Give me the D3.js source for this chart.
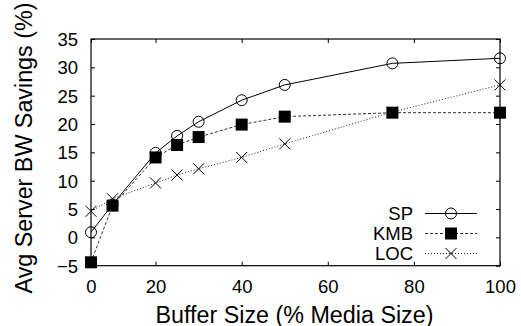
<!DOCTYPE html>
<html lang="en">

<head>
    <meta charset="utf-8">
    <script src="https://d3js.org/d3.v7.min.js"></script>
    <style>
        body { margin: 0; background: #fff; }
        text { font-family: "Liberation Sans", Arial, sans-serif; fill: #000; }
    </style>
</head>

<body>
    <div id="graph"></div>
    <script>
        // buffer sizes (% media size) and savings per method
        var bufferSizes = [5, 10, 20, 25, 30, 40, 50, 75, 100];
        var spValues  = [0.9, 5.8, 14.9, 17.9, 20.4, 24.2, 26.9, 30.7, 31.6];
        var kmbValues = [-4.4, 5.6, 14.1, 16.3, 17.7, 19.9, 21.3, 22.0, 22.0];
        var locValues = [4.6, 6.8, 9.6, 11.0, 12.1, 14.1, 16.5, 22.1, 26.9];
        var seriesNames = ["SP", "KMB", "LOC"];

        var xTickValues = [5, 20, 40, 60, 80, 100];
        var xTickLabels = ["0", "20", "40", "60", "80", "100"];
        var yTickValues = [-5, 0, 5, 10, 15, 20, 25, 30, 35];

        var width = 521, height = 326;
        var margin = { top: 39, right: 21, bottom: 60, left: 91 };

        var svg = d3.select("#graph").append("svg")
            .attr("width", width)
            .attr("height", height);

        var x = d3.scaleLinear()
            .domain([5, 100])
            .range([margin.left, width - margin.right]);

        var y = d3.scaleLinear()
            .domain([-5, 35])
            .range([height - margin.bottom - 0.3, margin.top]);

        // frame
        svg.append("rect")
            .attr("x", x(5)).attr("y", y(35))
            .attr("width", x(100) - x(5)).attr("height", y(-5) - y(35))
            .attr("fill", "none").attr("stroke", "#000").attr("stroke-width", 1.2);

        // axes, ticks pointing inward
        var tickFmt = function(d) {
            return d < 0 ? "\u2212" + Math.abs(d) : d;
        };
        var bottomAxis = d3.axisBottom(x).tickValues(xTickValues)
            .tickFormat((d, i) => xTickLabels[i]).tickSizeInner(-4).tickSizeOuter(0).tickPadding(14);
        var topAxis = d3.axisTop(x).tickValues(xTickValues).tickFormat("").tickSizeInner(-4).tickSizeOuter(0);
        var leftAxis = d3.axisLeft(y).tickValues(yTickValues).tickFormat(tickFmt)
            .tickSizeInner(-4).tickSizeOuter(0).tickPadding(13);
        var rightAxis = d3.axisRight(y).tickValues(yTickValues).tickFormat("").tickSizeInner(-4).tickSizeOuter(0);

        function styleAxis(g) {
            g.select(".domain").remove();
            g.selectAll("line").attr("stroke", "#000").attr("stroke-width", 1);
            g.selectAll("text").style("font-size", "18.5px").attr("font-family", null);
        }

        svg.append("g").attr("transform", "translate(0," + y(-5) + ")").call(bottomAxis).call(styleAxis);
        svg.append("g").attr("transform", "translate(0," + y(35) + ")").call(topAxis).call(styleAxis);
        svg.append("g").attr("transform", "translate(" + x(5) + ",0)").call(leftAxis).call(styleAxis)
            .selectAll("text").attr("dy", "0.35em");
        svg.append("g").attr("transform", "translate(" + x(100) + ",0)").call(rightAxis).call(styleAxis);

        // axis titles
        svg.append("text")
            .attr("x", 294.5).attr("y", 322.5)
            .attr("text-anchor", "middle")
            .style("font-size", "23.3px")
            .text("Buffer Size (% Media Size)");

        svg.append("text")
            .attr("transform", "translate(32," + 148 + ") rotate(-90)")
            .attr("text-anchor", "middle")
            .style("font-size", "23.3px")
            .text("Avg Server BW Savings (%)");

        var series = [
            { name: seriesNames[0], values: spValues, dash: null, color: "#000", marker: "circle" },
            { name: seriesNames[1], values: kmbValues, dash: "3,2", color: "#333", marker: "square" },
            { name: seriesNames[2], values: locValues, dash: "1,2", color: "#222", marker: "cross" }
        ];

        var line = d3.line()
            .x((d, i) => x(bufferSizes[i]))
            .y(d => y(d));

        function drawMarker(g, type) {
            if (type === "circle") {
                g.append("circle").attr("r", 5.5)
                    .attr("fill", "none").attr("stroke", "#000").attr("stroke-width", 1);
            } else if (type === "square") {
                g.append("rect").attr("x", -6).attr("y", -6).attr("width", 12).attr("height", 12)
                    .attr("fill", "#000");
            } else {
                g.append("path").attr("d", "M-5.5,-5.5L5.5,5.5M-5.5,5.5L5.5,-5.5")
                    .attr("stroke", "#000").attr("stroke-width", 1).attr("fill", "none");
            }
        }

        series.forEach(function(s) {
            svg.append("path")
                .datum(s.values)
                .attr("d", line)
                .attr("fill", "none")
                .attr("stroke", s.color)
                .attr("stroke-width", 1)
                .attr("stroke-dasharray", s.dash);

            svg.append("g")
                .selectAll("g")
                .data(s.values)
                .enter().append("g")
                .attr("transform", (d, i) => "translate(" + x(bufferSizes[i]) + "," + y(d) + ")")
                .each(function() { drawMarker(d3.select(this), s.marker); });
        });

        // legend
        var legend = svg.append("g");
        series.forEach(function(s, i) {
            var ly = 213.5 + i * 20;
            legend.append("text")
                .attr("x", 413).attr("y", ly)
                .attr("dy", "0.35em")
                .attr("text-anchor", "end")
                .style("font-size", "18.5px")
                .text(s.name);
            legend.append("line")
                .attr("x1", 425).attr("x2", 477)
                .attr("y1", ly).attr("y2", ly)
                .attr("stroke", s.color)
                .attr("stroke-width", 1)
                .attr("stroke-dasharray", s.dash);
            drawMarker(legend.append("g").attr("transform", "translate(451," + ly + ")"), s.marker);
        });
    </script>
</body>

</html>
